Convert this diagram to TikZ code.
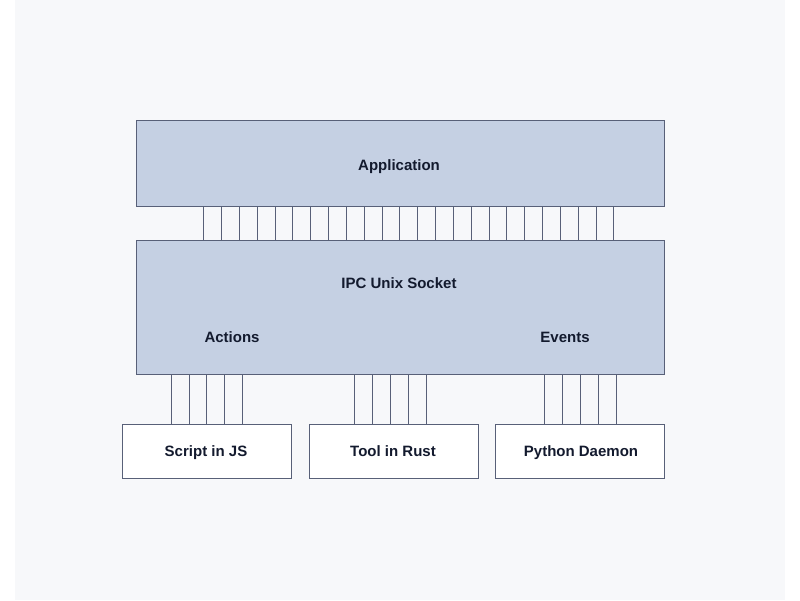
\documentclass[tikz,border=0pt]{standalone}
\usepackage{fontspec}
\setmainfont{Liberation Sans}
\usepackage{xcolor}
\definecolor{pagegray}{RGB}{247,248,250}
\definecolor{boxblue}{RGB}{197,208,227}
\definecolor{edgegray}{RGB}{88,96,120}
\definecolor{inknavy}{RGB}{19,26,46}

\begin{document}
\begin{tikzpicture}[
                x=1pt, y=-1pt,
                line join=miter,
                bigbluebox/.style={shape=rectangle, fill=boxblue, draw=edgegray, line width=1pt, minimum width=528pt, inner sep=0pt},
                clientbox/.style={shape=rectangle, fill=white, draw=edgegray, line width=1pt, minimum width=169pt, minimum height=54pt, inner sep=0pt},
                labeltext/.style={text=inknavy, font=\bfseries\fontsize{15}{17}\selectfont, text height=10.8pt, text depth=0pt, inner sep=0pt},
                wire/.style={draw=edgegray, line width=0.8pt}
                ]
                %% Background
                \useasboundingbox (0,0) rectangle (800,600);
                \fill[pagegray] (15,0) rectangle (785,600);

                %% Boxes
                \node[bigbluebox, minimum height=86pt] (app) at (400,163) {};
                \node[bigbluebox, minimum height=134pt] (ipc) at (400,307) {};

                \node[clientbox] (js) at (206.5,451) {};
                \node[clientbox] (rust) at (393.5,451) {};
                \node[clientbox] (python) at (579.5,451) {};

                %% Texts
                \node[labeltext] (applabel) at (399,165) {Application};
                \node[labeltext] (ipclabel) at (399,283.5) {IPC Unix Socket};
                \node[labeltext] (actions) at (232,337.5) {Actions};
                \node[labeltext] (events) at (565,337.5) {Events};
                \node[labeltext] (jslabel) at (206,451) {Script in JS};
                \node[labeltext] (rustlabel) at (393,451) {Tool in Rust};
                \node[labeltext] (pythonlabel) at (581,451) {Python Daemon};

                        % Wires between application and socket
                        \foreach \i in {0,...,23} {
                            \draw[wire] (203.7+17.83*\i,0 |- app.south) -- (203.7+17.83*\i,0 |- ipc.north);
                        }

                        % Wires down to the clients
                        \foreach \client/\xstart in {js/171, rust/354.3, python/544.3} {
                            \foreach \i in {0,...,4} {
                                \draw[wire] (\xstart+17.9*\i,0 |- ipc.south) -- (\xstart+17.9*\i,0 |- \client.north);
                            }
                        }
                    \end{tikzpicture}
\end{document}
